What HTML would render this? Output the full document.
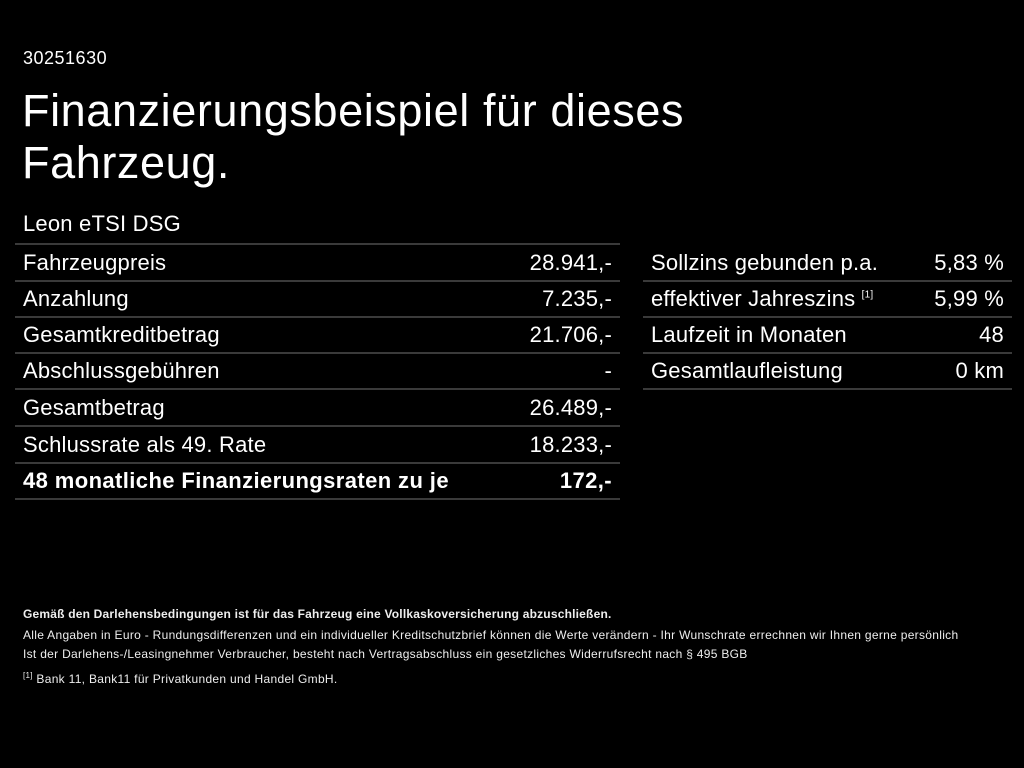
<!DOCTYPE html>
<html><head><meta charset="utf-8"><style>
body{margin:0;width:1024px;height:768px;background:#000;color:#fff;font-family:"Liberation Sans",Arial,sans-serif;position:relative;overflow:hidden}
.a{position:absolute;white-space:nowrap}
.row{position:absolute;height:36px;border-bottom:2px solid #3a3a3a;font-size:22px;line-height:38px;letter-spacing:0.2px}
.row span{position:absolute}
.l{left:8px}.r{right:8px}
.sm{font-size:12px;color:#eee;letter-spacing:0.3px}
sup{line-height:0}
</style></head><body>
<div class="a" style="left:23px;top:48px;font-size:18px;letter-spacing:0.5px">30251630</div>
<div class="a" style="left:22px;top:85px;font-size:45px;line-height:52px;letter-spacing:0.6px">Finanzierungsbeispiel für dieses<br>Fahrzeug.</div>
<div class="a" style="left:23px;top:211px;font-size:22px;letter-spacing:0.2px">Leon eTSI DSG</div>
<div class="row" style="left:15px;width:605px;top:207px"></div>
<div class="row" style="left:15px;width:605px;top:244px"><span class="l">Fahrzeugpreis</span><span class="r">28.941,-</span></div>
<div class="row" style="left:15px;width:605px;top:280px"><span class="l">Anzahlung</span><span class="r">7.235,-</span></div>
<div class="row" style="left:15px;width:605px;top:316px"><span class="l">Gesamtkreditbetrag</span><span class="r">21.706,-</span></div>
<div class="row" style="left:15px;width:605px;top:352px"><span class="l">Abschlussgebühren</span><span class="r">-</span></div>
<div class="row" style="left:15px;width:605px;top:389px"><span class="l">Gesamtbetrag</span><span class="r">26.489,-</span></div>
<div class="row" style="left:15px;width:605px;top:426px"><span class="l">Schlussrate als 49. Rate</span><span class="r">18.233,-</span></div>
<div class="row" style="left:15px;width:605px;top:462px;font-weight:bold;letter-spacing:0.4px"><span class="l">48 monatliche Finanzierungsraten zu je</span><span class="r">172,-</span></div>
<div class="row" style="left:643px;width:369px;top:244px"><span class="l">Sollzins gebunden p.a.</span><span class="r">5,83 %</span></div>
<div class="row" style="left:643px;width:369px;top:280px"><span class="l">effektiver Jahreszins <sup style="font-size:10px">[1]</sup></span><span class="r">5,99 %</span></div>
<div class="row" style="left:643px;width:369px;top:316px"><span class="l">Laufzeit in Monaten</span><span class="r">48</span></div>
<div class="row" style="left:643px;width:369px;top:352px"><span class="l">Gesamtlaufleistung</span><span class="r">0 km</span></div>
<div class="a sm" style="left:23px;top:607px;font-weight:bold;letter-spacing:0.2px">Gemäß den Darlehensbedingungen ist für das Fahrzeug eine Vollkaskoversicherung abzuschließen.</div>
<div class="a sm" style="left:23px;top:628px">Alle Angaben in Euro - Rundungsdifferenzen und ein individueller Kreditschutzbrief können die Werte verändern - Ihr Wunschrate errechnen wir Ihnen gerne persönlich</div>
<div class="a sm" style="left:23px;top:647px">Ist der Darlehens-/Leasingnehmer Verbraucher, besteht nach Vertragsabschluss ein gesetzliches Widerrufsrecht nach § 495 BGB</div>
<div class="a sm" style="left:23px;top:672px"><sup style="font-size:8px">[1]</sup> Bank 11, Bank11 für Privatkunden und Handel GmbH.</div>
</body></html>
